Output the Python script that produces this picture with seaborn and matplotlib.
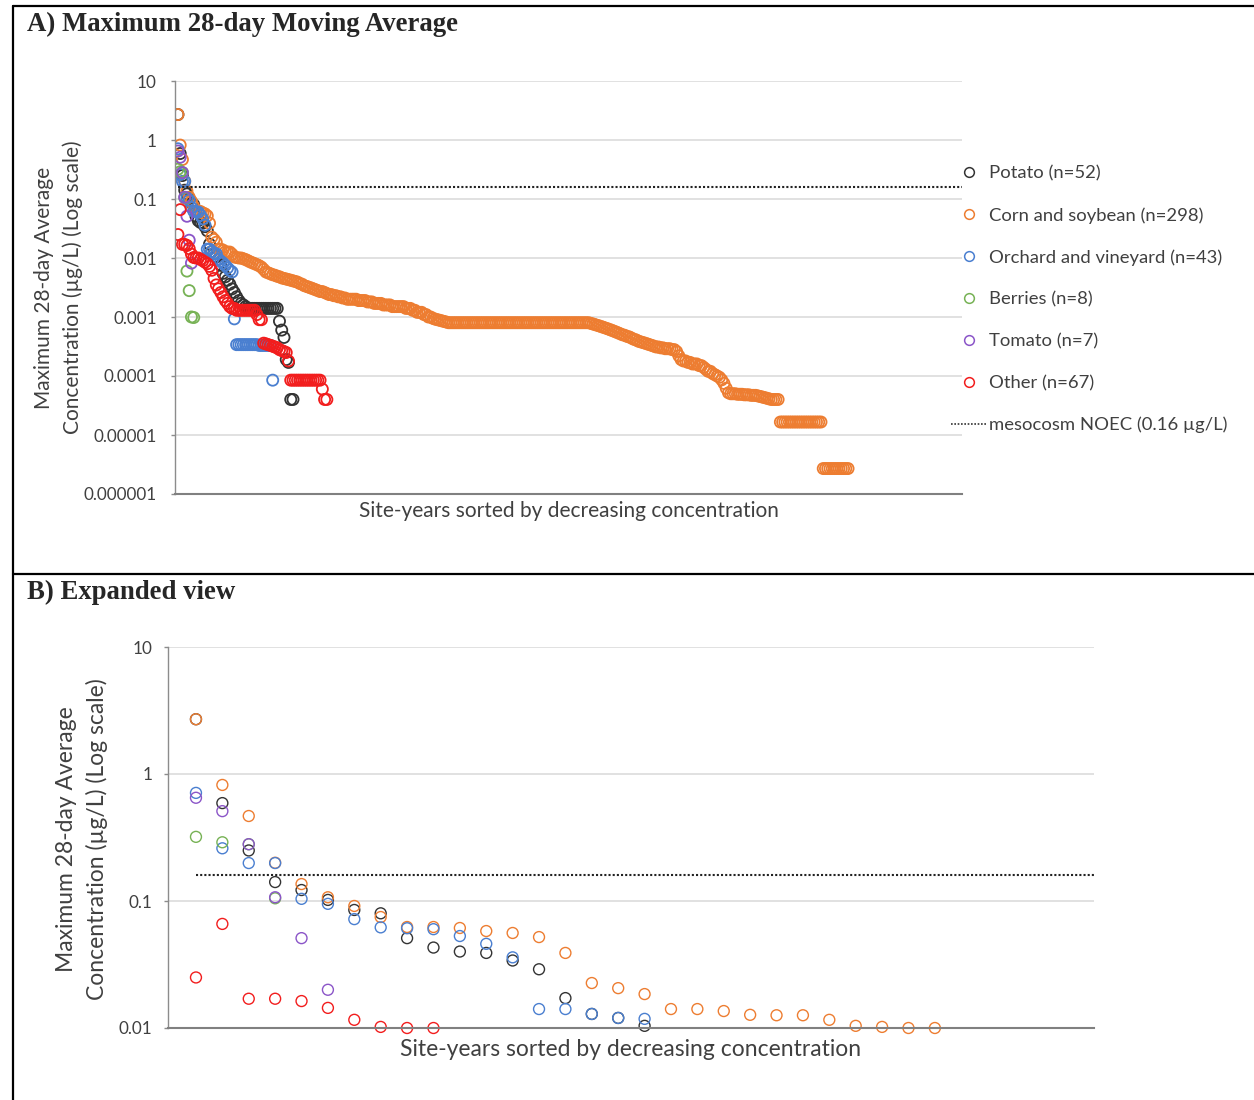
import numpy as np
import pandas as pd
import matplotlib
matplotlib.use('Agg')
import matplotlib.pyplot as plt
from matplotlib.lines import Line2D
from matplotlib.ticker import FuncFormatter, NullLocator
import seaborn as sns


# series labels and colours (Excel-like palette)
crops = ['Potato (n=52)', 'Corn and soybean (n=298)', 'Orchard and vineyard (n=43)',
         'Berries (n=8)', 'Tomato (n=7)', 'Other (n=67)']
crop_colors = ['#333333', '#ED7D31', '#4A7FD0', '#77B255', '#8B55C8', '#F21D1D']

noec = 0.16
noec_label = 'mesocosm NOEC (0.16 µg/L)'

# maximum 28-day moving average per site-year (µg/L), sorted by decreasing value
potato = ([2.7, 0.59, 0.25, 0.141, 0.122, 0.102, 0.085, 0.080, 0.051, 0.043,
           0.040, 0.039, 0.034, 0.029, 0.0172, 0.0129, 0.0120, 0.0104,
           0.0095, 0.0075, 0.0055, 0.0048, 0.0042, 0.0036, 0.0030, 0.0026, 0.0022,
           0.0019, 0.0017, 0.0016, 0.0015, 0.0014]
          + [0.0014] * 13
          + [0.00085, 0.0006, 0.00045, 0.00019, 0.00017, 0.00004, 0.00004])

corn = ([2.7, 0.82, 0.467, 0.20, 0.136, 0.107, 0.0914, 0.0748, 0.0624, 0.0624,
         0.0613, 0.058, 0.056, 0.052, 0.039, 0.0226, 0.0206, 0.0185, 0.0141, 0.0141,
         0.0136, 0.0127, 0.0126, 0.0126, 0.0116, 0.0104, 0.0102, 0.0100, 0.0100,
         0.0097, 0.0094, 0.0090, 0.0086, 0.0083, 0.0080, 0.0077, 0.0074, 0.0070, 0.0064,
         0.0058, 0.0056, 0.0054, 0.0052, 0.0051, 0.0049, 0.0048, 0.0046, 0.0045, 0.0044,
         0.0043, 0.0042, 0.0041, 0.0040, 0.0039, 0.0037, 0.0036, 0.0034, 0.0033, 0.0032,
         0.0031, 0.0030, 0.0029, 0.0028, 0.0027, 0.0027, 0.0026, 0.0025, 0.0024, 0.0024,
         0.0023, 0.0023, 0.0022, 0.0022, 0.0021, 0.0021,
         0.0020, 0.0020, 0.0020, 0.0020, 0.0020, 0.0019, 0.0019, 0.0019, 0.0019, 0.0018,
         0.0018, 0.0018, 0.0017, 0.0017, 0.0017, 0.0017, 0.0016, 0.0016, 0.0016, 0.0016,
         0.0015, 0.0015, 0.0015, 0.0015, 0.0015, 0.0015, 0.0014, 0.0014,
         0.0014, 0.0013, 0.0013, 0.0012, 0.0012, 0.0012, 0.0011,
         0.0011, 0.0010, 0.0010, 0.00095, 0.00092, 0.00090, 0.00088, 0.00086, 0.00084, 0.00082]
        + [0.0008] * 63
        + [0.00078, 0.00076, 0.00074, 0.00072, 0.00070, 0.00068, 0.00066, 0.00064, 0.00062, 0.00060,
           0.00058, 0.00056, 0.00054, 0.00052, 0.00050, 0.00049, 0.00047, 0.00046, 0.00044, 0.00042,
           0.00041, 0.00039, 0.00038, 0.00037, 0.00036, 0.00035, 0.00034, 0.00033, 0.00032, 0.00031,
           0.00031, 0.00030, 0.00030, 0.00029, 0.00029, 0.00029, 0.00028, 0.00028, 0.00026, 0.00022,
           0.00019, 0.00018, 0.00018, 0.00017, 0.00017, 0.00016, 0.00016, 0.00016, 0.00015, 0.00015,
           0.00014, 0.00013, 0.00012, 0.00012, 0.00011, 0.000105, 0.00010, 0.000095, 0.000086, 0.000075,
           0.000062, 0.000052,
           0.000050, 0.000050, 0.000050, 0.000049, 0.000049, 0.000049, 0.000048, 0.000048, 0.000048, 0.000047,
           0.000047, 0.000047, 0.000046, 0.000045, 0.000044, 0.000043, 0.000042, 0.000041, 0.000040, 0.000040,
           0.000040, 0.000040]
        + [0.0000166] * 19
        + [0.0000027] * 12)

orchard = ([0.71, 0.26, 0.199, 0.199, 0.104, 0.095, 0.072, 0.062, 0.061, 0.060,
            0.053, 0.046, 0.036, 0.0141, 0.0141, 0.0129, 0.0120, 0.0118,
            0.0095, 0.0088, 0.0082, 0.0075, 0.0068, 0.0062, 0.0058, 0.00093]
           + [0.00034] * 10 + [0.00033] * 6
           + [0.000085])

berries = [0.32, 0.29, 0.28, 0.105, 0.0060, 0.0028, 0.0010, 0.00098]

tomato = [0.65, 0.51, 0.28, 0.107, 0.051, 0.020, 0.0082]

other = ([0.025, 0.066, 0.017, 0.017, 0.0163, 0.0144, 0.0116, 0.0102, 0.0100, 0.0100,
          0.0095, 0.0090, 0.0085, 0.0080, 0.0072, 0.0062,
          0.0045, 0.0035, 0.0030, 0.0026, 0.0022, 0.0019, 0.0017,
          0.0015, 0.0014, 0.0014]
         + [0.0013] * 9
         + [0.0011, 0.0009, 0.0009,
            0.00036, 0.00035, 0.00034, 0.00033, 0.00032, 0.00031, 0.00030, 0.00028, 0.00027, 0.00026, 0.00025,
            0.00018]
         + [0.000085] * 14
         + [0.00006, 0.00004, 0.00004])

# long table: rank within each crop group (drawing order = legend order)
frames = []
for crop, vals in zip(crops, [potato, corn, orchard, berries, tomato, other]):
    frames.append(pd.DataFrame({'rank': np.arange(1, len(vals) + 1), 'conc': vals, 'crop': crop}))
df = pd.concat(frames, ignore_index=True)

sns.set_theme(style='white')
plt.rcParams['font.family'] = ['Lato', 'DejaVu Sans']
plt.rcParams['axes.unicode_minus'] = False

text_col = '#404040'
xlabel_text = 'Site-years sorted by decreasing concentration'
ylabel_text = 'Maximum 28-day Average\nConcentration (µg/L) (Log scale)'


def decimal_label(v, pos):
    digits = max(0, -int(round(np.log10(v))))
    return f'{v:.{digits}f}'


def style_axis(ax, ylim, xlim, tick_pad):
    ax.set_yscale('log')
    ax.set_ylim(*ylim)
    ax.set_xlim(*xlim)
    decades = 10.0 ** np.arange(np.log10(ylim[0]), np.log10(ylim[1]) + 1)
    ax.set_yticks(decades)
    ax.yaxis.set_minor_locator(NullLocator())
    ax.yaxis.set_major_formatter(FuncFormatter(decimal_label))
    ax.set_xticks([])
    ax.set_xlabel('')
    ax.yaxis.grid(True, color='#D9D9D9', lw=1.1)
    ax.set_axisbelow(True)
    for side in ['top', 'right']:
        ax.spines[side].set_visible(False)
    ax.spines['left'].set_color('#8C8C8C')
    ax.spines['left'].set_linewidth(1.0)
    ax.spines['bottom'].set_color('#808080')
    ax.spines['bottom'].set_linewidth(1.5)
    ax.tick_params(axis='y', left=True, length=3, width=1, color='#8C8C8C',
                   labelsize=12.3, labelcolor=text_col, pad=tick_pad)


def open_circles(ax):
    # turn the filled seaborn markers into hollow circles like the original
    coll = ax.collections[-1]
    fc = coll.get_facecolors()
    coll.set_edgecolors(fc)
    coll.set_facecolors('none')


def axis_labels(ax, size, x_off, y_off, y_center, spacing):
    ax.text(0.5, y_off, xlabel_text, transform=ax.transAxes, ha='center', va='center',
            fontsize=size, color=text_col)
    ax.set_ylabel(ylabel_text, fontsize=size, color=text_col, va='center', linespacing=spacing)
    ax.yaxis.set_label_coords(x_off, y_center)


fig = plt.figure(figsize=(12.54, 11), dpi=100)

# ---- panel A: all site-years
ax_a = fig.add_axes([175 / 1254, 1 - 494 / 1100, 787 / 1254, 413 / 1100])
xlim_a = (-0.3, 348.5)
sns.scatterplot(data=df, x='rank', y='conc', hue='crop', hue_order=crops,
                palette=crop_colors, s=64, linewidth=1.3, legend=False, ax=ax_a)
open_circles(ax_a)
style_axis(ax_a, (1e-6, 10), xlim_a, 10)
ax_a.hlines(noec, 1, xlim_a[1], colors='#222222', linestyles=(0, (1, 1)), lw=1.5)
axis_labels(ax_a, 15, -0.148, -17 / 413, 0.5, 1.55)

handles = [Line2D([], [], ls='none', marker='o', mfc='none', mec=c, ms=7, mew=1.1)
           for c in crop_colors]
handles.append(Line2D([], [], color='#333333', ls=(0, (1, 1)), lw=1.2))
ax_a.legend(handles, crops + [noec_label], loc='upper left',
            bbox_to_anchor=(942 / 1254, 1 - 156 / 1100), bbox_transform=fig.transFigure,
            frameon=False, borderpad=0, handlelength=1.9, handletextpad=0.15,
            labelspacing=1.39, fontsize=13.3, labelcolor=text_col)

# ---- panel B: expanded view of the top ranks
ax_b = fig.add_axes([168 / 1254, 1 - 1028 / 1100, 926 / 1254, 381 / 1100])
xlim_b = (-0.06, 35.03)
ylim_b = (0.01, 10)
df_b = df[(df['conc'] >= 0.0099) & (df['rank'] <= xlim_b[1])]
sns.scatterplot(data=df_b, x='rank', y='conc', hue='crop', hue_order=crops,
                palette=crop_colors, s=62, linewidth=1.0, legend=False, ax=ax_b,
                clip_on=False)
open_circles(ax_b)
style_axis(ax_b, ylim_b, xlim_b, 8)
ax_b.hlines(noec, 1, xlim_b[1], colors='#222222', linestyles=(0, (1, 1)), lw=1.5)
axis_labels(ax_b, 16.5, -0.093, -21 / 381, 0.497, 1.5)

# ---- panel titles and frame
fig.text(27 / 1254, 1 - 24 / 1100, 'A) Maximum 28-day Moving Average',
         family='Liberation Serif', weight='bold', size=19.3, va='center', ha='left')
fig.text(27 / 1254, 1 - 592 / 1100, 'B) Expanded view',
         family='Liberation Serif', weight='bold', size=19.3, va='center', ha='left')

x0 = 13 / 1254
fig.add_artist(Line2D([x0, x0], [0, 1 - 6 / 1100], transform=fig.transFigure, color='black', lw=1.6))
fig.add_artist(Line2D([x0, 1], [1 - 6 / 1100] * 2, transform=fig.transFigure, color='black', lw=1.6))
fig.add_artist(Line2D([x0, 1], [1 - 574 / 1100] * 2, transform=fig.transFigure, color='black', lw=1.6))

fig.savefig('out.png', dpi=100)
